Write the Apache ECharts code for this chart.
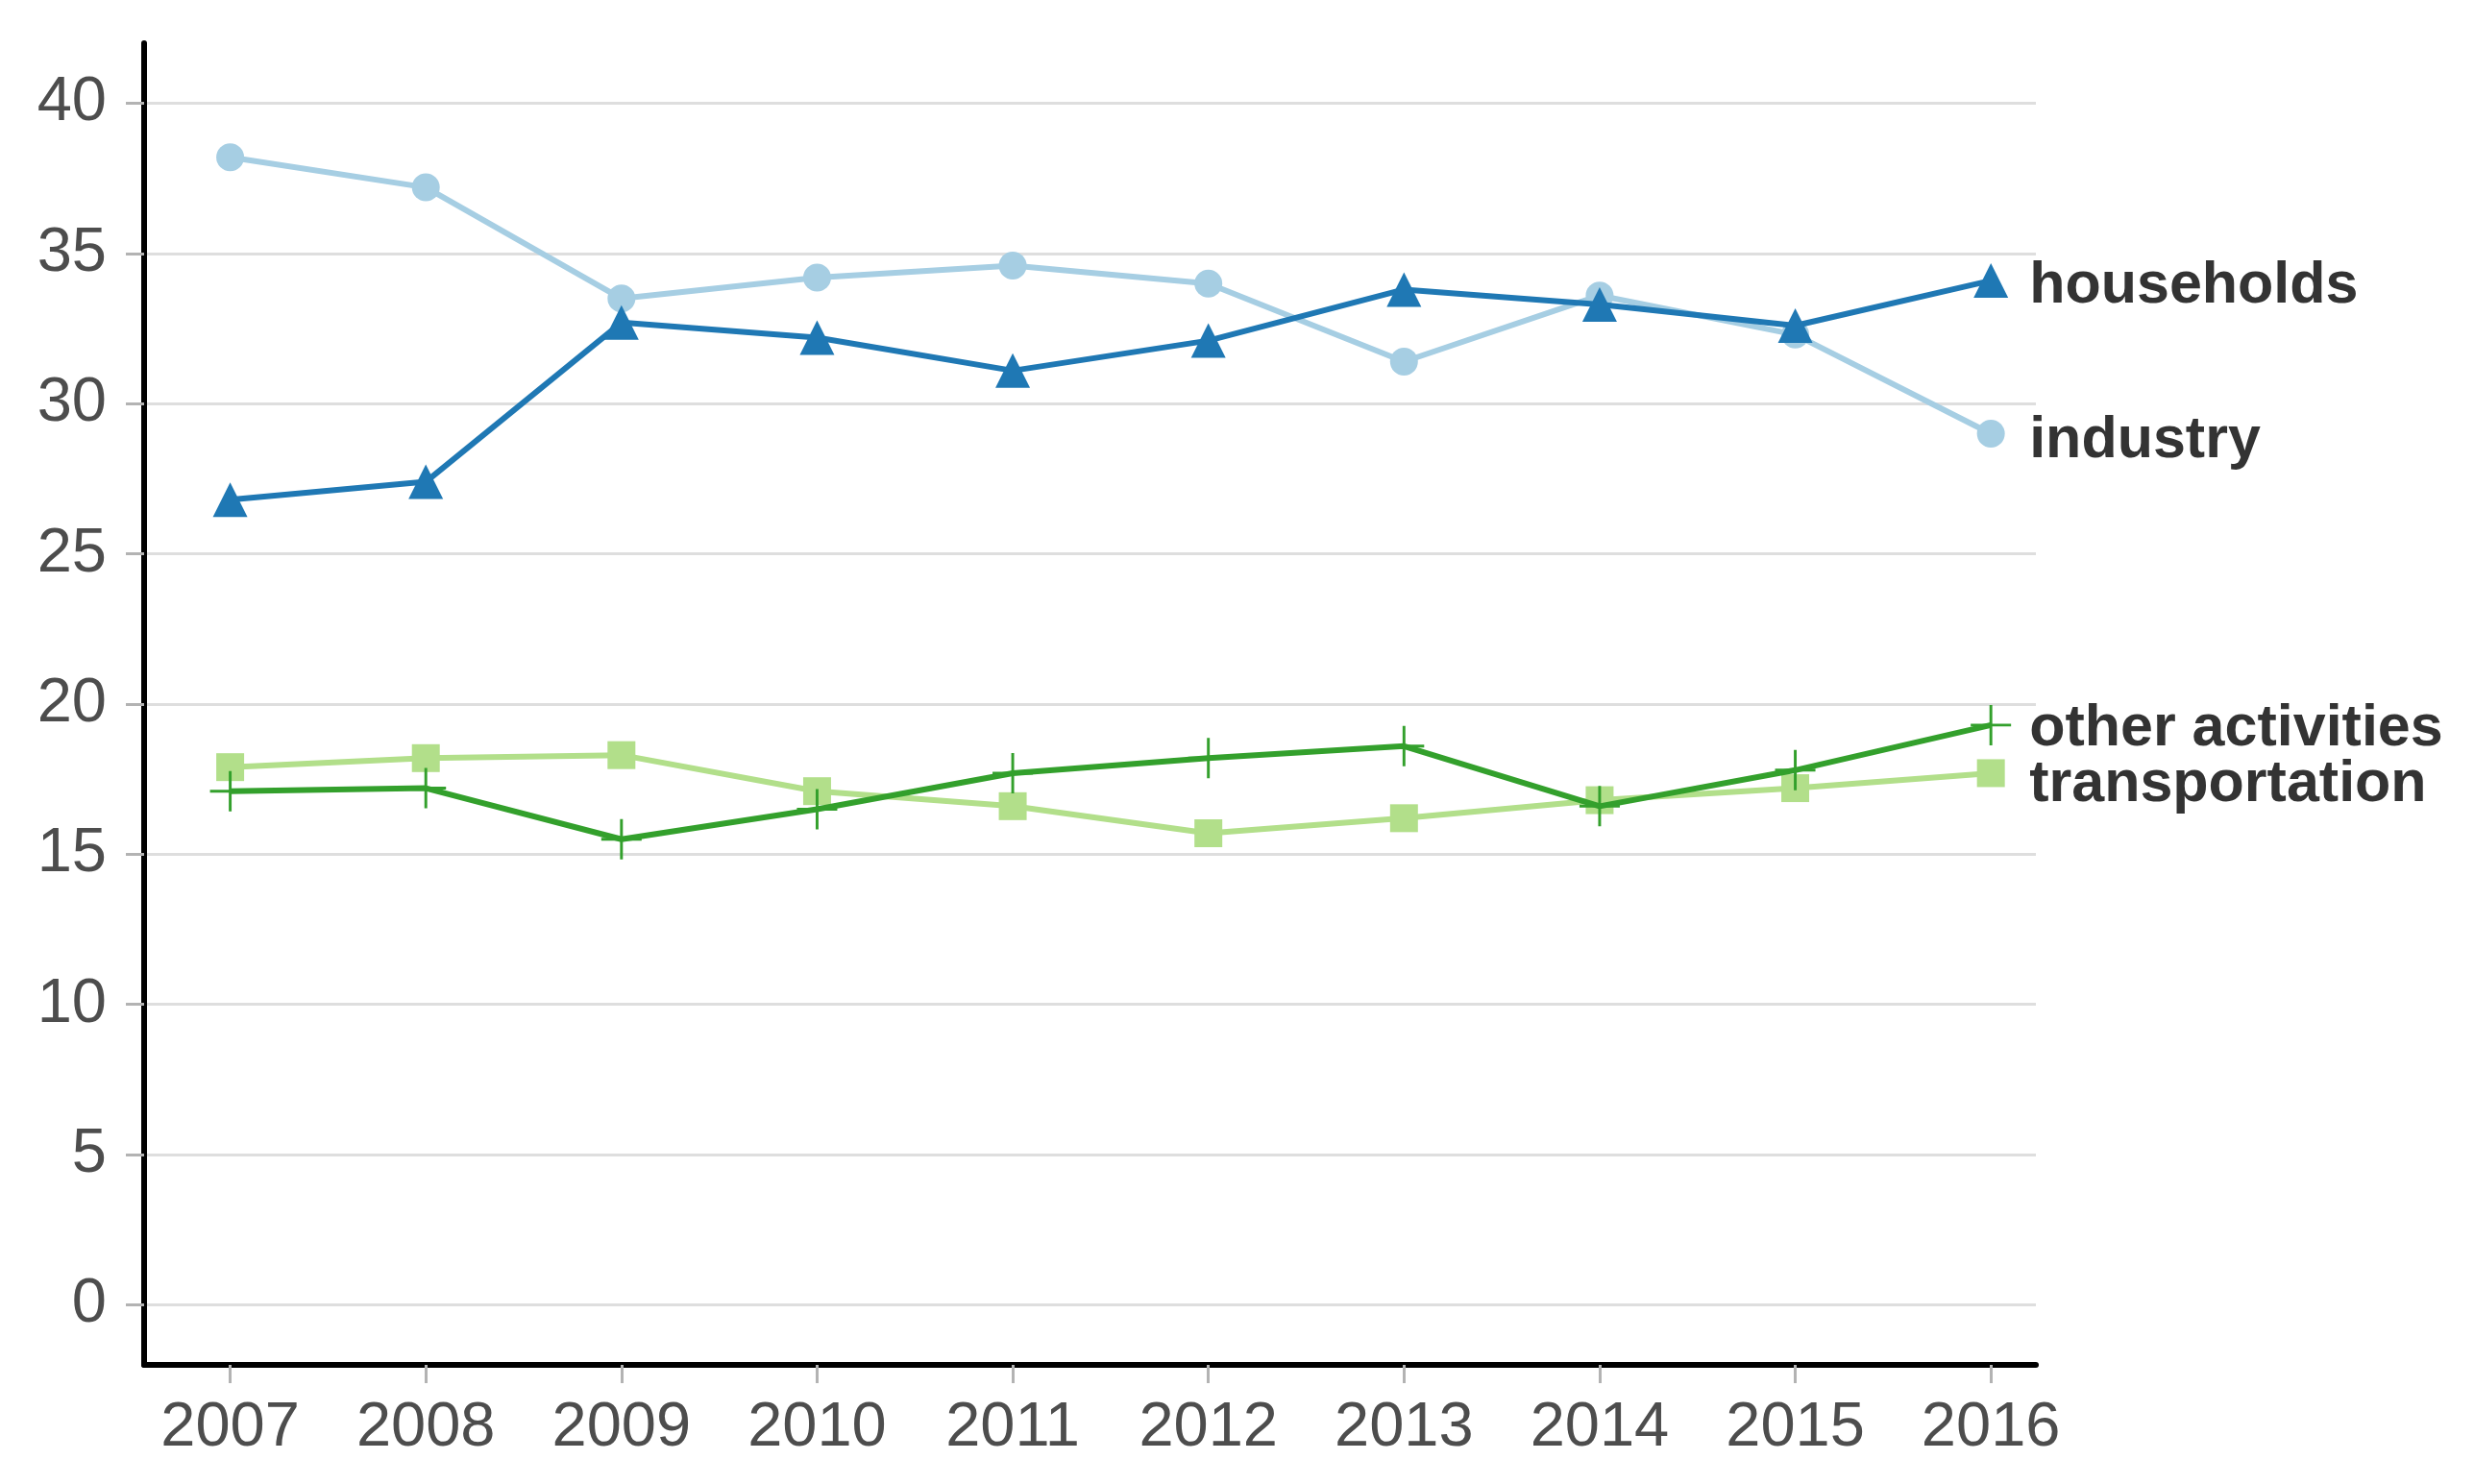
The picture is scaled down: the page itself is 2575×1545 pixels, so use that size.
<!DOCTYPE html>
<html>
<head>
<meta charset="utf-8">
<script src="https://cdn.jsdelivr.net/npm/echarts@6/dist/echarts.min.js"></script>
<style>
html,body{margin:0;padding:0;background:#fff;}
#chart{width:2575px;height:1545px;}
</style>
</head>
<body>
<div id="chart"></div>
<script>
const years = [2007, 2008, 2009, 2010, 2011, 2012, 2013, 2014, 2015, 2016];
const yTicks = [0, 5, 10, 15, 20, 25, 30, 35, 40];
const industry = [38.2, 37.2, 33.5, 34.2, 34.6, 34.0, 31.4, 33.6, 32.3, 29.0];
const households = [26.8, 27.4, 32.7, 32.2, 31.1, 32.1, 33.8, 33.3, 32.6, 34.1];
const transportation = [17.9, 18.2, 18.3, 17.1, 16.6, 15.7, 16.2, 16.8, 17.2, 17.7];
const otherActivities = [17.1, 17.2, 15.5, 16.5, 17.7, 18.2, 18.6, 16.6, 17.8, 19.3];

const pair = arr => years.map((y, i) => [y, arr[i]]);
const plusPath = 'path://M-0.035,-0.5 L0.035,-0.5 L0.035,-0.035 L0.5,-0.035 L0.5,0.035 L0.035,0.035 L0.035,0.5 L-0.035,0.5 L-0.035,0.035 L-0.5,0.035 L-0.5,-0.035 L-0.035,-0.035 Z';

function mk(name, data, color, symbol, size, offset, z) {
  return {
    name: name, type: 'line', data: pair(data), z: z,
    symbol: symbol, symbolSize: size,
    lineStyle: { color: color, width: 6 },
    itemStyle: { color: color },
    emphasis: { disabled: true },
    animation: false,
    endLabel: {
      show: true, formatter: name, distance: 40, offset: offset,
      fontFamily: 'Liberation Sans', fontWeight: 'bold', fontSize: 61, color: '#333333'
    }
  };
}

const chart = echarts.init(document.getElementById('chart'));
chart.setOption({
  backgroundColor: '#ffffff',
  animation: false,
  grid: { left: 150, right: 456, top: 45, bottom: 124, containLabel: false },
  xAxis: {
    type: 'value', min: 2006.56, max: 2016.23,
    axisLine: { show: true, onZero: false, lineStyle: { color: '#000', width: 6 } },
    axisTick: { show: true, customValues: years, length: 19, lineStyle: { color: '#b3b3b3', width: 3 } },
    axisLabel: { customValues: years, formatter: v => String(Math.round(v)), margin: 34,
                 fontFamily: 'Liberation Sans', fontSize: 65, color: '#4d4d4d' },
    splitLine: { show: false }
  },
  yAxis: {
    type: 'value', min: -2, max: 42,
    axisLine: { show: true, onZero: false, lineStyle: { color: '#000', width: 6 } },
    axisTick: { show: true, customValues: yTicks, length: 19, lineStyle: { color: '#b3b3b3', width: 3 } },
    axisLabel: { customValues: yTicks, margin: 39, fontFamily: 'Liberation Sans', fontSize: 65, color: '#4d4d4d' },
    splitLine: { show: true, lineStyle: { color: '#dedede', width: 3 } }
  },
  series: [
    mk('transportation', transportation, '#b2df8a', 'rect', 29, [0, 12], 2),
    mk('industry', industry, '#a6cee3', 'circle', 29, [0, 8], 2),
    mk('other activities', otherActivities, '#33a02c', plusPath, 42, [0, 4], 3),
    mk('households', households, '#1f78b4', 'triangle', 36, [0, 6], 3)
  ]
});
</script>
</body>
</html>
